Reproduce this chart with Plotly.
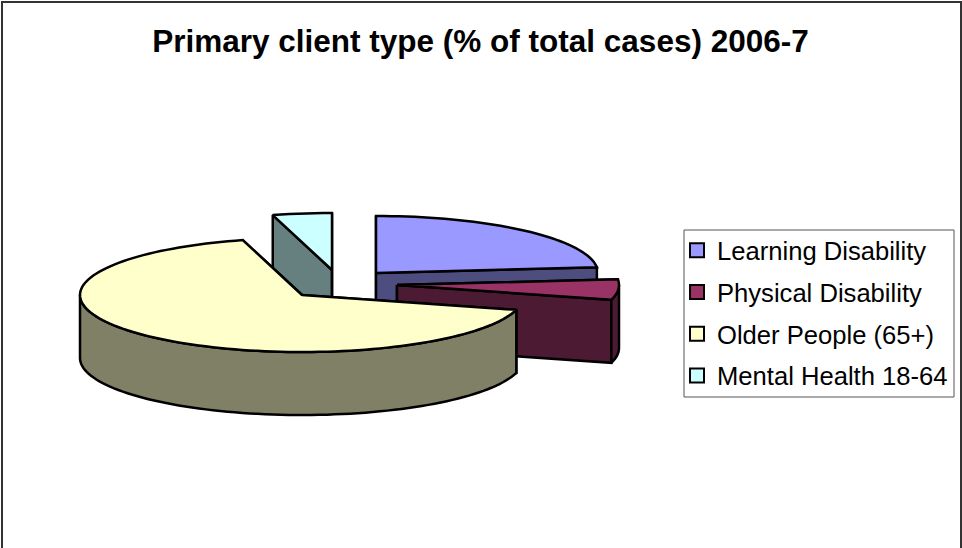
import math
import plotly.graph_objects as go

categories = ["Learning Disability", "Physical Disability", "Older People (65+)", "Mental Health 18-64"]
values = [23.4, 5.8, 66.5, 4.3]
title_text = "Primary client type (% of total cases) 2006-7"

top_colors = ["#9999FF", "#993366", "#FFFFCC", "#CCFFFF"]
wall_colors = ["#4D4D80", "#4D1A33", "#808066", "#668080"]
explode = [(74, -22), (95, -10), (0, 0), (30, -25)]
CX, CY, RX, RY, DEPTH = 302, 295, 222, 57, 63
draw_order = [0, 3, 1, 2]

total = sum(values)
spans, acc = [], 0.0
for v in values:
    spans.append((acc, acc + v / total * 360))
    acc += v / total * 360


def rim(i, deg, dz=0):
    a = math.radians(deg)
    return (CX + explode[i][0] + RX * math.sin(a), CY + explode[i][1] - RY * math.cos(a) + dz)


def arc(i, a0, a1, dz=0):
    n = max(2, int(abs(a1 - a0) / 2) + 1)
    return [rim(i, a0 + (a1 - a0) * k / (n - 1), dz) for k in range(n)]


def poly(pts, fill, group):
    xs = [p[0] for p in pts] + [pts[0][0]]
    ys = [p[1] for p in pts] + [pts[0][1]]
    return go.Scatter(x=xs, y=ys, mode="lines", fill="toself", fillcolor=fill,
                      line=dict(color="black", width=2.5, simplify=False), hoverinfo="skip",
                      showlegend=False, legendgroup=group)


fig = go.Figure()
for i in draw_order:
    a0, a1 = spans[i]
    apex = (CX + explode[i][0], CY + explode[i][1])
    low = (apex[0], apex[1] + DEPTH)
    for ang in (a0, a1):
        fig.add_trace(poly([apex, rim(i, ang), rim(i, ang, DEPTH), low], wall_colors[i], categories[i]))
    f0, f1 = max(a0, 90), min(a1, 270)
    if f1 > f0:
        fig.add_trace(poly(arc(i, f0, f1) + arc(i, f1, f0, DEPTH), wall_colors[i], categories[i]))
    fig.add_trace(poly([apex] + arc(i, a0, a1), top_colors[i], categories[i]))

for i, name in enumerate(categories):
    fig.add_trace(go.Scatter(x=[None], y=[None], mode="markers", name=name, legendgroup=name,
                             marker=dict(symbol="square", size=14, color=top_colors[i],
                                         line=dict(color="black", width=2))))

fig.update_layout(
    width=962, height=548, margin=dict(l=0, r=0, t=0, b=0),
    paper_bgcolor="white", plot_bgcolor="white",
    xaxis=dict(visible=False, range=[0, 962], fixedrange=True),
    yaxis=dict(visible=False, range=[548, 0], fixedrange=True),
    font=dict(family="Liberation Sans", color="black"),
    title=dict(text=title_text, x=480.5 / 962, xanchor="center", y=1 - 41 / 548, yanchor="middle",
               font=dict(family="Liberation Sans", size=31.5, color="black", weight="bold")),
    legend=dict(x=677 / 962, y=1 - 227 / 548, xanchor="left", yanchor="top",
                font=dict(size=25.6, family="Liberation Sans"), bgcolor="rgba(0,0,0,0)",
                borderwidth=0, traceorder="grouped", tracegroupgap=5.5, itemclick=False, itemdoubleclick=False),
    shapes=[
        dict(type="rect", xref="x", yref="y", x0=2, x1=961, y0=2, y1=600,
             line=dict(color="#333333", width=2), layer="below"),
        dict(type="rect", xref="x", yref="y", x0=684, x1=954, y0=230, y1=397,
             line=dict(color="#555555", width=1), fillcolor="white", layer="below"),
    ],
)
fig.write_html("out.html", config={"displayModeBar": False},
               post_script="document.body.style.margin='0';document.body.style.overflow='hidden';")
